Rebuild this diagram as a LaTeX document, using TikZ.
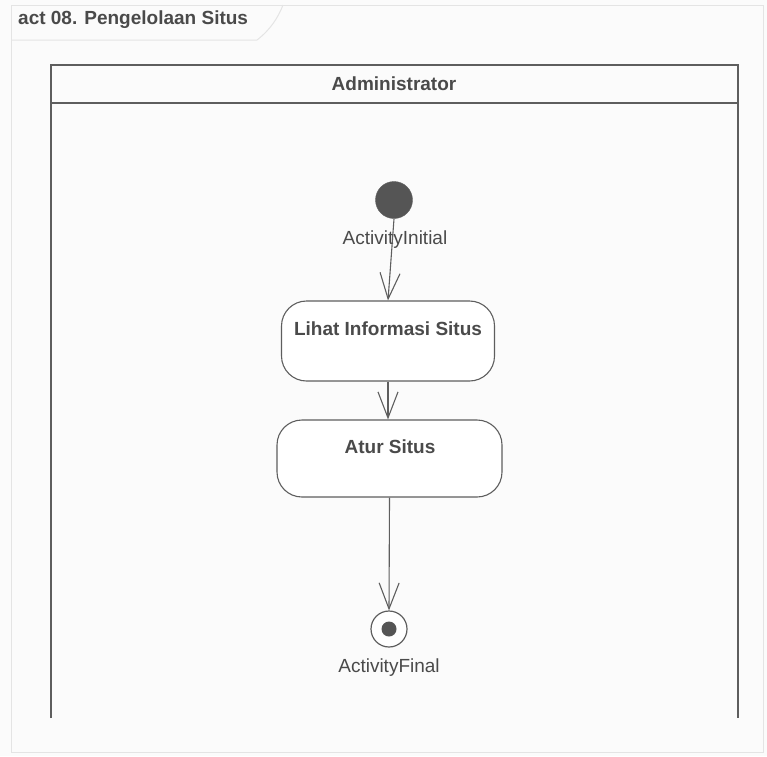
\documentclass[tikz,border=0pt]{standalone}
\usepackage{fontspec}
\setmainfont{Liberation Sans}
\usetikzlibrary{arrows.meta}
\definecolor{ln}{HTML}{5E5E5E}
\definecolor{tx}{HTML}{4A4A4A}
\definecolor{fr}{HTML}{E4E4E4}
\definecolor{bg}{HTML}{FBFBFB}
\tikzset{
  actbox/.style={draw=ln, line width=1.1pt, rounded corners=25pt, fill=white},
  boldtx/.style={font=\bfseries\fontsize{19}{21}\selectfont, text=tx, inner sep=0pt},
  lbl/.style={font=\fontsize{19}{21}\selectfont, text=tx, inner sep=0pt},
  flow/.style={draw=ln, line width=1.1pt, -{Straight Barb[length=26pt,width=20pt,line width=1.1pt]}},
}
\begin{document}
\begin{tikzpicture}[x=1pt,y=-1pt]
\useasboundingbox (0,0) rectangle (767,756);
\fill[bg] (0,0) rectangle (767,756);
% outer frame
\draw[fr, line width=1pt] (11,5) rectangle (763,752);
\draw[fr, line width=1pt] (11,40) -- (257,40) .. controls (270,30) and (278,18) .. (283,5);
\node[boldtx, anchor=west] (title) at (18,20) {act 08. Pengelolaan Situs};
% swimlane
\draw[ln, line width=1.3pt] (51,718) -- (51,65) -- (738,65) -- (738,718);
\draw[ln, line width=1.3pt] (51,103) -- (738,103);
\node[boldtx] (lane) at (394,84) {Administrator};
% initial
\node[circle, fill=ln!90!black, draw=ln, minimum size=37pt, inner sep=0pt] (init) at (394,200) {};
\node[lbl] (initl) at (395,240) {ActivityInitial};
% actions
\node[actbox, minimum width=213pt, minimum height=80pt] (a1) at (388,341) {};
\node[boldtx] (a1t) at (388,329) {Lihat Informasi Situs};
\node[actbox, minimum width=225pt, minimum height=77pt] (a2) at (389.5,458.5) {};
\node[boldtx] (a2t) at (390,447) {Atur Situs};
% final
\node[circle, draw=ln, line width=1.2pt, fill=white, minimum size=36pt, inner sep=0pt] (fin) at (389,629) {};
\node[circle, fill=ln!90!black, minimum size=15pt, inner sep=0pt] (finc) at (fin.center) {};
\node[lbl] (finl) at (389,668) {ActivityFinal};
% flows
\draw[flow] (init.south) -- (a1.north);
\draw[flow] (a1.south) -- (a1.south |- a2.north);
\draw[flow] (a2.south) -- (fin.north);
\end{tikzpicture}
\end{document}
